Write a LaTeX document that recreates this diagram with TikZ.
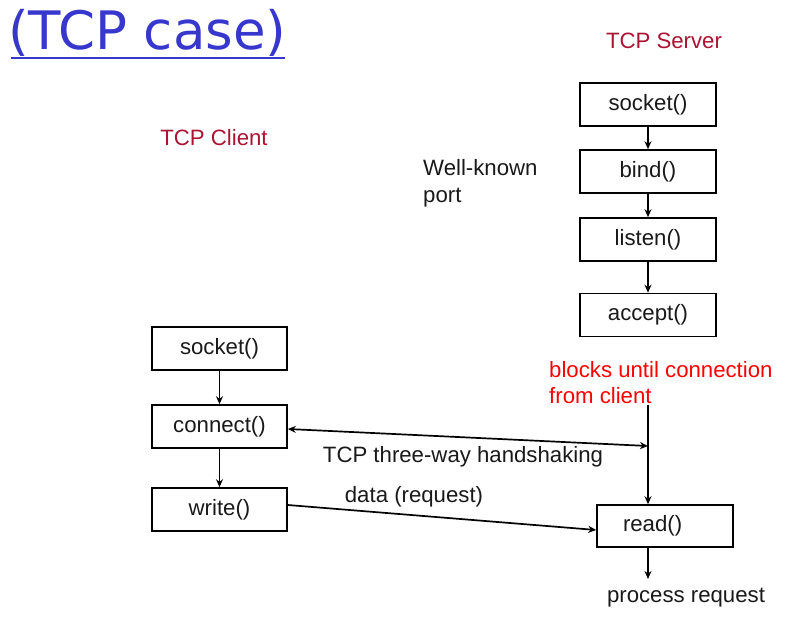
\documentclass[tikz,border=0pt]{standalone}
\usepackage{fontspec}
\setmainfont{Liberation Sans}
\newfontfamily\titlefont{DejaVu Sans}
\usetikzlibrary{arrows.meta}
\definecolor{crim}{RGB}{170,20,50}
\definecolor{titleblue}{RGB}{55,55,205}
\begin{document}
\begin{tikzpicture}[x=1pt,y=-1pt,
  every node/.style={font=\fontsize{22.2}{26}\selectfont, text=black!90},
  fbox/.style={draw, line width=1.6pt, minimum width=136pt, minimum height=43pt, inner sep=0pt},
  lbl/.style={inner sep=0pt},
  arr/.style={line width=1.7pt, -{Stealth[length=8pt,width=7pt]}},
  darr/.style={line width=1.7pt, {Stealth[length=8pt,width=7pt]}-{Stealth[length=8pt,width=7pt]}}
]
\useasboundingbox (0,0) rectangle (790,617);
% title
\node[lbl, anchor=west, text=titleblue, font=\titlefont\fontsize{53}{60}\selectfont] (title) at (8,33) {(TCP case)};
\draw[titleblue, line width=1.4pt] (11,58) -- (285,58);
% headers
\node[lbl, text=crim] (srvh) at (664,41) {TCP Server};
\node[lbl, text=crim] (clih) at (214,138) {TCP Client};
\node[lbl, anchor=north west, align=left, font=\fontsize{22.2}{27}\selectfont] (wk) at (423,159) {Well-known\\port};
% server boxes
\node[fbox] (ssock) at (648,104.5) {socket()};
\node[fbox] (sbind) at (648,171.5) {bind()};
\node[fbox] (slisten) at (648,239.5) {listen()};
\node[fbox] (saccept) at (648,315) {accept()};
% client boxes
\node[fbox, minimum width=135pt] (csock) at (219.5,348.5) {socket()};
\node[fbox, minimum width=135pt] (cconn) at (219.5,426.5) {connect()};
\node[fbox, minimum width=135pt] (cwrite) at (219.5,509.5) {write()};
% read
\node[fbox, minimum height=42pt, text width=136pt, align=left] (sread) at (665,526) {\hspace*{26pt}read()};
% red text
\node[lbl, anchor=north west, align=left, text=red, font=\fontsize{22.2}{26}\selectfont] (blk) at (549,361) {blocks until connection\\from client};
\node[lbl] (proc) at (686,598) {process request};
\node[lbl] (hs) at (463,457) {TCP three-way handshaking};
\node[lbl] (dat) at (414,497) {data (request)};
% arrows
\draw[arr] (ssock) -- (sbind);
\draw[arr] (sbind) -- (slisten);
\draw[arr] (slisten) -- (saccept);
\draw[arr] (csock) -- (cconn);
\draw[arr] (cconn) -- (cwrite);
\coordinate (vtop) at (648,405);
\coordinate (hsend) at (648,446);
\draw[arr] (vtop) -- (vtop |- sread.north);
\draw[darr] ([yshift=-2.5pt]cconn.east) -- (hsend);
\draw[arr] ([yshift=4.5pt]cwrite.east) -- ([yshift=-4pt]sread.west);
\coordinate (pend) at (648,579);
\draw[arr] (sread.south -| pend) -- (pend);
\end{tikzpicture}
\end{document}
